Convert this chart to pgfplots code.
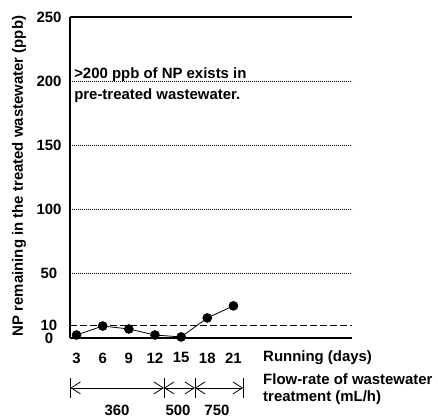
\documentclass[border=0pt]{standalone}
\usepackage{fontspec}
\setmainfont{Liberation Sans}
\usepackage{pgfplots}
\pgfplotsset{compat=1.18}
\usetikzlibrary{arrows.meta}

\newcommand{\lbl}{\fontsize{11.2}{13}\selectfont\bfseries}

\begin{document}
\begin{tikzpicture}
\begin{axis}[
    scale only axis,
    width=211.5pt, height=240.75pt,
    xmin=2.25, xmax=34.6,
    ymin=0, ymax=250,
    axis x line=bottom, axis y line=left,
    axis line style={-, line width=1.1pt},
    xtick={3,6,...,21},
    ytick={0,10,50,100,150,200,250},
    major tick length=0pt,
    /pgf/number format/assume math mode=true,
    tick label style={font=\lbl},
    yticklabel style={anchor=center, xshift=-15.75pt},
    xticklabel style={yshift=-7.5pt},
    clip=false,
]
% reference lines
\draw[line width=1.1pt] (axis cs:2.25,250) -- (axis cs:34.6,250);
\foreach \v in {50,100,150,200}{
    \edef\tmp{\noexpand\draw[densely dotted, line width=0.5pt] (axis cs:2.25,\v) -- (axis cs:34.6,\v);}
    \tmp
}
\draw[line width=0.8pt, dash pattern=on 5pt off 2.5pt] (axis cs:2.25,10) -- (axis cs:34.6,10);

\addplot[black, line width=0.6pt, mark=*, mark size=3.3pt] coordinates {
    (3,2.3) (6,9.3) (9,7) (12,2.3) (15,0.8) (18,15.6) (21,25)
};

\node[anchor=west, inner sep=0pt, align=left, font=\lbl, text depth=0pt]
    at (axis cs:2.71,197.9) {>200 ppb of NP exists in\\[3pt]pre-treated wastewater.};

% y label
\node[rotate=90, font=\lbl] at (axis cs:-3.6,126.2)
    {NP remaining in the treated wastewater (ppb)};

% x side texts
\node[anchor=west, inner sep=0pt, font=\lbl] at (axis cs:24.39,-15.6) {Running (days)};
\node[anchor=west, inner sep=0pt, align=left, font=\lbl] at (axis cs:24.39,-39.7)
    {Flow-rate of wastewater\\treatment (mL/h)};

% flow-rate intervals
\foreach \b in {2.3,13.03,16.59,22.1}{
    \edef\tmp{\noexpand\draw[line width=0.6pt] (axis cs:\b,-31.2) -- (axis cs:\b,-46.7);}
    \tmp
}
\tikzset{barb/.style={{Straight Barb[length=7pt,width=9pt]}-{Straight Barb[length=7pt,width=9pt]}, line width=0.6pt}}
\draw[barb] (axis cs:2.3,-38.9) -- (axis cs:13.03,-38.9);
\draw[barb] (axis cs:13.03,-38.9) -- (axis cs:16.59,-38.9);
\draw[barb] (axis cs:16.59,-38.9) -- (axis cs:22.1,-38.9);
\node[font=\lbl] at (axis cs:7.65,-56.1) {360};
\node[font=\lbl] at (axis cs:14.64,-56.1) {500};
\node[font=\lbl] at (axis cs:19.11,-56.1) {750};

\coordinate (bbl) at (axis cs:-5.78,-62.3);
\coordinate (bbr) at (axis cs:44.47,263.24);
\end{axis}
\pgfresetboundingbox
\path (bbl) rectangle (bbr);
\end{tikzpicture}
\end{document}
